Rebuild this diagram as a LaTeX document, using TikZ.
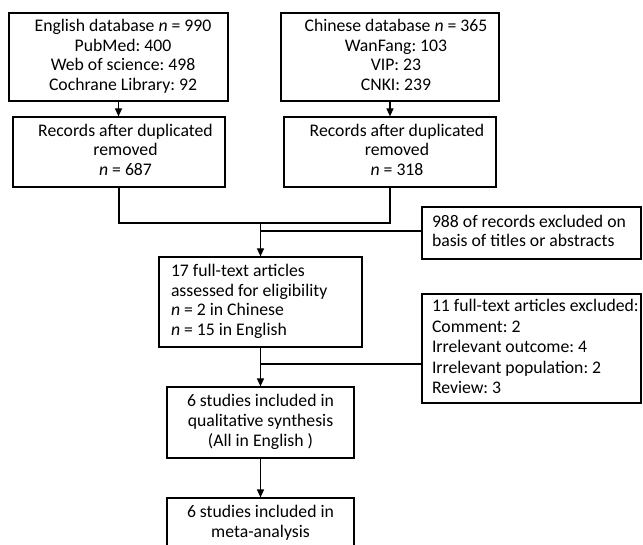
\documentclass[tikz,border=0pt]{standalone}
\usepackage{fontspec}
\setmainfont{Carlito}
\usetikzlibrary{arrows.meta}
\frenchspacing
\newcommand{\ctrlines}[2]{\hspace*{#1}\begin{tabular}{@{}c@{}}#2\end{tabular}}
\newcommand{\leftlines}[2]{\makebox[#1][l]{\begin{tabular}{@{}l@{}}#2\end{tabular}}}
\begin{document}
\begin{tikzpicture}[x=1pt,y=-1pt,
  box/.style={draw, line width=1.2pt, rectangle, inner sep=0pt, font=\fontsize{17.7}{19.7}\selectfont},
  lbox/.style={draw, line width=1.2pt, rectangle, inner ysep=0pt, font=\fontsize{17.7}{19.7}\selectfont},
  conn/.style={line width=1.2pt},
  arr/.style={conn, -{Triangle[length=8pt,width=7pt]}}]
\useasboundingbox (0,0) rectangle (643,545);
\clip (0,0) rectangle (643,545);

\node[box, minimum width=219pt, minimum height=88pt] (b1) at (118.5,57)
  {\ctrlines{9pt}{English database \textit{n} = 990\\PubMed: 400\\Web of science: 498\\Cochrane Library: 92}};
\node[box, minimum width=218pt, minimum height=88pt] (b2) at (390,57)
  {\ctrlines{12pt}{Chinese database \textit{n} = 365\\WanFang: 103\\VIP: 23\\CNKI: 239}};
\node[box, minimum width=212pt, minimum height=70pt] (b3) at (119,152)
  {\ctrlines{13pt}{Records after duplicated\\removed\\\textit{n} = 687}};
\node[box, minimum width=212pt, minimum height=70pt] (b4) at (390,152)
  {\ctrlines{14pt}{Records after duplicated\\removed\\\textit{n} = 318}};
\node[lbox, inner xsep=12pt, minimum height=90pt] (b5) at (260.5,302)
  {\leftlines{179pt}{17 full-text articles\\assessed for eligibility\\\textit{n} = 2 in Chinese\\\textit{n} = 15 in English}};
\node[lbox, inner xsep=10pt, minimum height=52pt] (b6) at (531.5,233)
  {\leftlines{199pt}{988 of records excluded on\\basis of titles or abstracts}};
\node[lbox, inner xsep=10pt, minimum height=109pt, font=\fontsize{17.7}{20.6}\selectfont] (b11) at (531.5,348.5)
  {\leftlines{199pt}{11 full-text articles excluded:\\Comment: 2\\Irrelevant outcome: 4\\Irrelevant population: 2\\Review: 3}};
\node[box, minimum width=187pt, minimum height=71pt] (b7) at (260.5,422.5)
  {\ctrlines{0pt}{6 studies included in\\qualitative synthesis\\(All in English\kern4pt)}};
\node[box, minimum width=187pt, minimum height=71pt] (b8) at (260.5,533.5)
  {\ctrlines{0pt}{6 studies included in\\meta-analysis\\~}};

\draw[arr] (b1.south) -- (b1.south |- b3.north);
\draw[arr] (b2.south) -- (b2.south |- b4.north);
\coordinate (j) at (260.5,223);
\draw[conn] (b3.south) |- (j) -| (b4.south);
\draw[arr] (j) -- (b5.north);
\coordinate (k1) at (260.5,231);
\draw[conn] (k1) -- (k1 -| b6.west);
\draw[arr] (b5.south) -- (b7.north);
\coordinate (k2) at (260.5,364);
\draw[conn] (k2) -- (k2 -| b11.west);
\draw[arr] (b7.south) -- (b8.north);
\end{tikzpicture}
\end{document}
